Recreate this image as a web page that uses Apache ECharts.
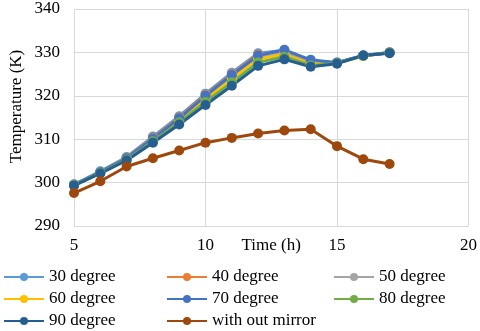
<!DOCTYPE html>
<html lang="en">
<head>
    <meta charset="UTF-8">
    <title>Temperature vs time</title>
    <style>
        html, body { margin: 0; padding: 0; background: #fff; }
        #main { width: 480px; height: 331px; }
    </style>
</head>
<body>
    <div id="main"></div>
</body>
</html>
<script src="https://cdn.jsdelivr.net/npm/echarts@6/dist/echarts.min.js"></script>
<script>
    // data
    var hours = [5, 6, 7, 8, 9, 10, 11, 12, 13, 14, 15, 16, 17];
    var deg30 = [299.6, 302.6, 305.9, 310.6, 315.3, 320.5, 325.3, 329.8, 330.5, 328.0, 327.7, 329.3, 330.0];
    var deg40 = [299.5, 302.4, 305.7, 310.3, 315.0, 320.2, 325.0, 329.5, 330.3, 327.8, 327.6, 329.2, 330.0];
    var deg50 = [299.5, 302.3, 305.6, 310.0, 314.6, 319.7, 324.4, 329.0, 329.8, 327.5, 327.6, 329.2, 329.9];
    var deg60 = [299.4, 302.2, 305.4, 309.8, 314.3, 319.3, 323.9, 328.5, 329.5, 327.3, 327.5, 329.2, 329.9];
    var deg70 = [299.5, 302.4, 305.6, 310.1, 314.8, 320.0, 324.8, 329.3, 330.6, 328.3, 327.6, 329.3, 330.0];
    var deg80 = [299.4, 302.2, 305.3, 309.5, 313.9, 318.6, 323.1, 327.7, 329.0, 327.0, 327.5, 329.2, 329.9];
    var deg90 = [299.3, 302.1, 305.1, 309.2, 313.4, 317.9, 322.3, 326.9, 328.4, 326.7, 327.4, 329.3, 329.8];
    var noMirror = [297.6, 300.3, 303.7, 305.6, 307.4, 309.2, 310.3, 311.3, 312.0, 312.3, 308.4, 305.4, 304.3];

    var names = ['30 degree', '40 degree', '50 degree', '60 degree', '70 degree', '80 degree', '90 degree', 'with out mirror'];
    var values = [deg30, deg40, deg50, deg60, deg70, deg80, deg90, noMirror];
    var colors = ['#5B9BD5', '#ED7D31', '#A5A5A5', '#FFC000', '#4472C4', '#70AD47', '#255E91', '#9E480E'];

    var font = 'Liberation Serif';
    var mainChart = echarts.init(document.getElementById('main'));

    var series = names.map(function (n, i) {
        return {
            name: n,
            type: 'line',
            data: hours.map(function (h, j) { return [h, values[i][j]]; }),
            symbol: 'circle',
            symbolSize: 10,
            lineStyle: { width: 3, color: colors[i] },
            itemStyle: { color: colors[i] },
            animation: false
        };
    });

    // one vertical legend per column, so the columns line up like the original
    function legendCol(left, items) {
        return {
            orient: 'vertical',
            left: left,
            top: 268,
            height: 70,
            padding: 0,
            data: items,
            itemWidth: 40,
            itemHeight: 10,
            itemGap: 4,
            textStyle: { fontFamily: font, fontSize: 17, color: '#000', lineHeight: 18 }
        };
    }

    var option = {
        backgroundColor: '#fff',
        grid: { left: 72, right: 10, top: 9, bottom: 105 },
        legend: [
            legendCol(3, ['30 degree', '60 degree', '90 degree']),
            legendCol(166, ['40 degree', '70 degree', 'with out mirror']),
            legendCol(333, ['50 degree', '80 degree'])
        ],
        xAxis: {
            type: 'value',
            min: 5, max: 20, interval: 5,
            name: 'Time (h)',
            nameLocation: 'middle',
            nameGap: 11,
            nameMoveOverlap: false,
            nameTextStyle: { fontFamily: font, fontSize: 17, color: '#000', verticalAlign: 'top' },
            axisLine: { show: false },
            axisTick: { show: false },
            axisLabel: { fontFamily: font, fontSize: 17, color: '#000', margin: 11 },
            splitLine: { show: true, lineStyle: { color: '#D9D9D9', width: 1 } }
        },
        yAxis: {
            type: 'value',
            min: 290, max: 340, interval: 10,
            name: 'Temperature (K)',
            nameLocation: 'middle',
            nameGap: 49,
            nameMoveOverlap: false,
            nameTextStyle: { fontFamily: font, fontSize: 17, color: '#000', padding: [0, 0, 0, 22] },
            axisLine: { show: false },
            axisTick: { show: false },
            axisLabel: { fontFamily: font, fontSize: 17, color: '#000', margin: 14 },
            splitLine: { show: true, lineStyle: { color: '#D9D9D9', width: 1 } }
        },
        series: series
    };

    mainChart.setOption(option);
</script>
